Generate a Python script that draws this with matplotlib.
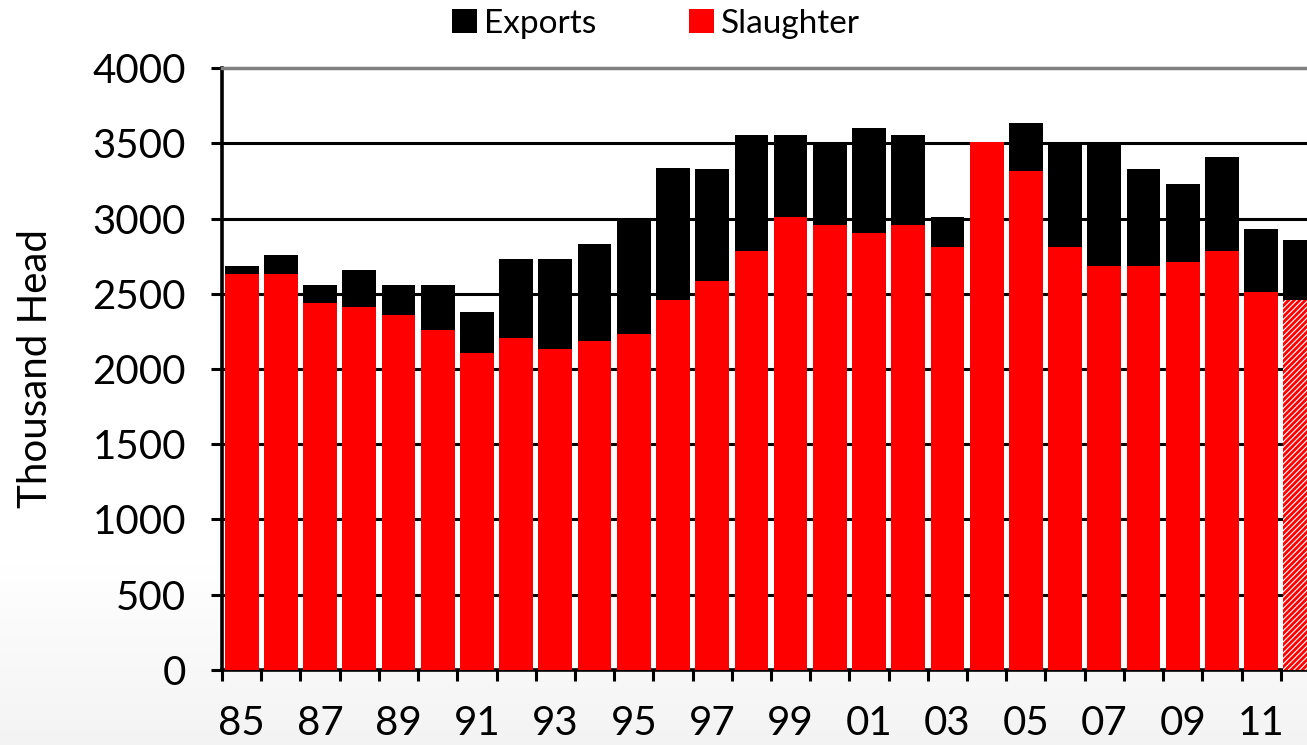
#!/usr/bin/env python3
"""stacked bars: cattle slaughter + exports, thousand head"""
import numpy as np
from matplotlib import pyplot as plt
from matplotlib.patches import Patch

years = list(range(1985, 2013))
slaughter = [2633, 2633, 2437, 2410, 2358, 2259, 2108, 2209, 2134, 2184,
             2234, 2461, 2585, 2783, 3007, 2957, 2907, 2957, 2809, 3510,
             3313, 2809, 2685, 2685, 2709, 2785, 2509, 2461]
exports = [51, 125, 122, 248, 201, 300, 274, 525, 600, 649,
           750, 875, 745, 771, 547, 547, 697, 597, 198, 0,
           321, 695, 819, 645, 522, 627, 421, 396]
tick_years = years[:-1:2]
forecast_year = 2012

plt.rcParams['font.family'] = ['Lato', 'DejaVu Sans']
plt.rcParams['hatch.linewidth'] = 2.0


def run():
    fig = plt.figure(figsize=(13.07, 7.45), dpi=100)

    # faint grey wash at the bottom of the slide
    bg = fig.add_axes([0, 0, 1, 1], zorder=-5)
    rows = np.linspace(0, 1, 200)
    shade = np.clip((rows - 0.75) / 0.25, 0, 1)
    grad = np.column_stack([shade, shade])
    bg.imshow(grad, aspect='auto', cmap='Greys', vmin=0, vmax=10,
              extent=[0, 1, 0, 1], origin='upper')
    bg.set_axis_off()

    ax = fig.add_axes([0.1699, 0.1007, 0.840, 0.808])
    ax.set_facecolor('white')

    x = np.arange(len(years))
    bars = ax.bar(x, slaughter, width=0.86, color='red', zorder=3)
    ax.bar(x, exports, bottom=slaughter, width=0.86, color='black', zorder=3)

    # the last year is a forecast: hatched red
    i = years.index(forecast_year)
    bars[i].set_facecolor('white')
    bars[i].set_edgecolor('red')
    bars[i].set_linewidth(0)
    bars[i].set_hatch('//////')

    ax.set_xlim(-0.5, len(years) - 0.5)
    ax.set_ylim(0, 4000)
    ax.set_yticks(np.arange(0, 4001, 500))
    ax.yaxis.grid(True, color='black', linewidth=2.2, zorder=0)
    ax.set_axisbelow(True)
    ax.get_ygridlines()[-1].set_visible(False)

    # labels on every other year, tick marks between bars
    ax.set_xticks([years.index(y) for y in tick_years])
    ax.set_xticklabels(['%02d' % (y % 100) for y in tick_years])
    ax.set_xticks(np.arange(-0.5, len(years), 1), minor=True)
    ax.tick_params(axis='x', which='major', length=0, pad=25, labelsize=29)
    ax.tick_params(axis='x', which='minor', length=8, width=2.2,
                   direction='out', color='black')
    ax.tick_params(axis='y', length=8, width=2.2, direction='out',
                   labelsize=29, pad=18)

    for side in ['left', 'bottom']:
        ax.spines[side].set_linewidth(2.6)
        ax.spines[side].set_color('black')
    ax.spines['top'].set_color('#808080')
    ax.spines['top'].set_linewidth(2.5)
    ax.spines['right'].set_visible(False)

    ax.set_ylabel('Thousand Head', fontsize=29, labelpad=28)

    handles = [Patch(facecolor='black'), Patch(facecolor='red')]
    fig.legend(handles, ['Exports', 'Slaughter'], loc='center',
               bbox_to_anchor=(0.502, 0.968), ncol=2, frameon=False,
               fontsize=24, handlelength=0.75, handleheight=0.75,
               handletextpad=0.2, columnspacing=2.8)

    fig.savefig('out.png', dpi=100)


if __name__ == '__main__':
    run()
